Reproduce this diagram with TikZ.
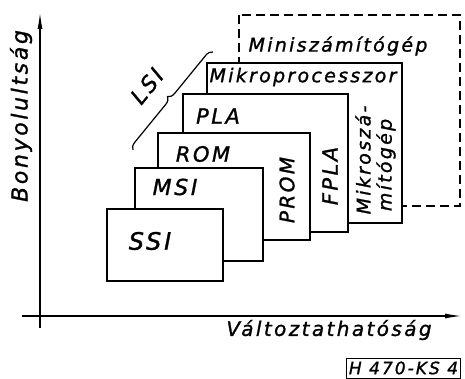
\documentclass[tikz,border=0pt]{standalone}
\usepackage{fontspec}
\setmainfont{DejaVu Sans}
\newfontfamily\hand[LetterSpace=12,FakeBold=1.2]{DejaVu Sans}
\usetikzlibrary{arrows.meta,decorations.pathreplacing}
\begin{document}
\begin{tikzpicture}[x=1pt,y=-1pt,line width=1.4pt,
  lab/.style={inner sep=0pt,font=\hand\itshape\fontsize{#1}{#1}\selectfont},
  lab/.default=19,
  blk/.style={draw,fill=white},
  axis/.style={line width=1.4pt,-{Latex[length=17pt,width=5pt]}}]
\useasboundingbox (0,0) rectangle (465,379);

% axes
\coordinate (ybot) at (40,328);
\coordinate (ytop) at (40,12);
\coordinate (xleft) at (22,316);
\coordinate (xright) at (462,316);
\draw[axis] (ybot) -- (ytop);
\draw[axis] (xleft) -- (xright);

% stacked blocks, drawn from the back to the front
\draw[blk,dashed,dash pattern=on 9pt off 5pt] (239,15) rectangle (460,206);
\draw[blk] (207,63) rectangle (402,223);
\draw[blk] (183,94) rectangle (348,232);
\draw[blk] (158,133) rectangle (310,240);
\draw[blk] (135,168) rectangle (263,261);
\draw[blk] (107,209) rectangle (223,281);

% labels of the blocks
\node[lab] (tmini) at (338,46) {Miniszámítógép};
\node[lab] (tmikro) at (303,77) {Mikroprocesszor};
\node[lab=21] (tpla) at (218,116) {PLA};
\node[lab=21] (trom) at (203,154) {ROM};
\node[lab=22] (tmsi) at (175,187) {MSI};
\node[lab=24] (tssi) at (150,241) {SSI};
\node[lab=20,rotate=90] (tprom) at (287,190) {PROM};
\node[lab=21,rotate=90] (tfpla) at (330,176) {FPLA};
\node[lab=19,rotate=90] (tmk1) at (363,160) {Mikroszá-};
\node[lab=19,rotate=90] (tmk2) at (386,165) {mítógép};

% LSI group
\coordinate (bra) at (133,150);
\coordinate (brb) at (213,52);
\draw[line width=1.2pt,decorate,decoration={brace,amplitude=7pt}] (bra) -- (brb);
\node[lab=22,rotate=51] (tlsi) at (147,86) {LSI};

% axis titles
\node[lab=22,rotate=90] (tbony) at (21,116) {Bonyolultság};
\node[lab=20] (tvalt) at (329,330) {Változtathatóság};

% drawing code
\node[draw,line width=1pt,inner xsep=2pt,inner ysep=2pt,
  font=\hand\itshape\fontsize{17}{17}\selectfont,
  minimum width=113pt,minimum height=20pt] (code) at (403.5,368) {H 470-KS 4};
\end{tikzpicture}
\end{document}
